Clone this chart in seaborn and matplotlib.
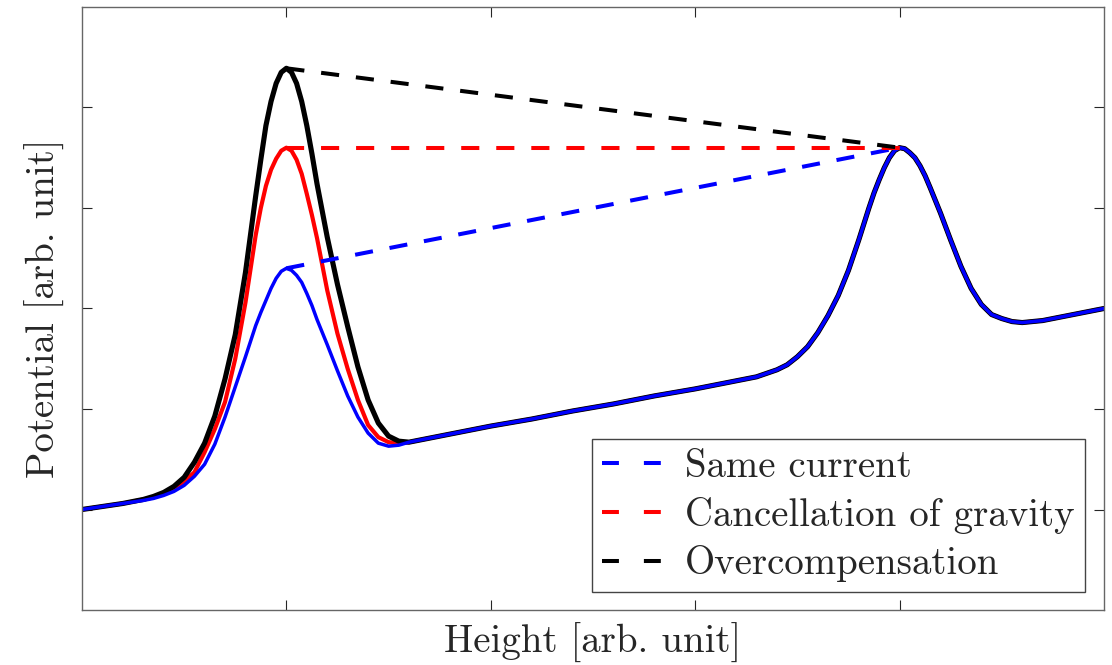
import matplotlib
matplotlib.use("Agg")
import matplotlib.pyplot as plt
import pandas as pd
import seaborn as sns

# Shared height grid across the first barrier
x_first = [0.0, 0.1, 0.2, 0.3, 0.35, 0.4, 0.45, 0.5, 0.55, 0.6, 0.65, 0.7, 0.75,
           0.8, 0.85, 0.875, 0.9, 0.925, 0.95, 0.975, 1.0, 1.025, 1.05, 1.075,
           1.1, 1.125, 1.15, 1.2, 1.25, 1.3, 1.35, 1.4, 1.45, 1.5, 1.55, 1.6]

# Potential across the first barrier for each case
same_current_first = [1.00, 1.03, 1.06, 1.09, 1.11, 1.14, 1.18, 1.24, 1.33, 1.45,
                      1.65, 1.92, 2.22, 2.52, 2.83, 2.96, 3.08, 3.20, 3.30, 3.37,
                      3.40, 3.38, 3.33, 3.26, 3.15, 3.03, 2.89, 2.64, 2.38, 2.13,
                      1.92, 1.76, 1.66, 1.63, 1.64, 1.67]
cancellation_first = [1.00, 1.03, 1.06, 1.10, 1.12, 1.16, 1.21, 1.28, 1.37, 1.57,
                      1.80, 2.07, 2.50, 3.06, 3.73, 4.00, 4.22, 4.38, 4.49, 4.57,
                      4.60, 4.57, 4.48, 4.34, 4.14, 3.93, 3.70, 3.18, 2.75, 2.40,
                      2.09, 1.84, 1.72, 1.67, 1.66, 1.67]
overcomp_first = [1.00, 1.03, 1.06, 1.10, 1.13, 1.17, 1.23, 1.32, 1.47, 1.66,
                  1.93, 2.30, 2.74, 3.36, 4.12, 4.48, 4.82, 5.06, 5.24, 5.35,
                  5.39, 5.35, 5.24, 5.06, 4.82, 4.54, 4.24, 3.71, 3.24, 2.82,
                  2.42, 2.09, 1.86, 1.73, 1.68, 1.67]

# Common potential beyond the first barrier (slope and second barrier)
x_rest = [1.7, 1.8, 2.0, 2.2, 2.4, 2.6, 2.8, 3.0, 3.2, 3.3, 3.4, 3.45, 3.5, 3.55,
          3.6, 3.65, 3.7, 3.75, 3.8, 3.85, 3.875, 3.9, 3.925, 3.95, 3.975, 4.0,
          4.025, 4.05, 4.075, 4.1, 4.125, 4.15, 4.2, 4.25, 4.3, 4.35, 4.4, 4.45,
          4.5, 4.55, 4.6, 4.7, 4.8, 4.9, 5.0]
y_rest = [1.71, 1.75, 1.83, 1.90, 1.98, 2.05, 2.13, 2.20, 2.28, 2.32, 2.39, 2.44,
          2.52, 2.62, 2.76, 2.93, 3.13, 3.38, 3.68, 4.00, 4.15, 4.28, 4.40, 4.50,
          4.57, 4.60, 4.59, 4.55, 4.50, 4.42, 4.32, 4.20, 3.95, 3.68, 3.42, 3.20,
          3.04, 2.94, 2.90, 2.87, 2.86, 2.88, 2.92, 2.96, 3.00]

labels = ["Same current", "Cancellation of gravity", "Overcompensation"]
colors = ["#0000ff", "#ff0000", "#000000"]
firsts = [same_current_first, cancellation_first, overcomp_first]

# Barrier tops (first barrier at x=1, second at x=4)
barrier_x = [1.0, 4.0]

rows = []
for lab, yf in zip(labels, firsts):
    for xv, yv in zip(x_first + x_rest, yf + y_rest):
        rows.append({"height": xv, "potential": yv, "case": lab})
df = pd.DataFrame(rows)

sns.set_style("white")
plt.rcParams["font.family"] = ["cmr10", "DejaVu Serif"]
plt.rcParams["axes.formatter.use_mathtext"] = True

fig = plt.figure(figsize=(11.12, 6.65), dpi=100)
ax = fig.add_axes([0.0737, 0.0827, 0.9191, 0.9068])

# Solid potential profiles: red at the bottom, then black, blue on top
widths = {"Overcompensation": 3.7, "Cancellation of gravity": 3.0, "Same current": 2.5}
for lab in ["Cancellation of gravity", "Overcompensation", "Same current"]:
    sub = df[df["case"] == lab]
    sns.lineplot(data=sub, x="height", y="potential", ax=ax, sort=False,
                 estimator=None, color=colors[labels.index(lab)],
                 linewidth=widths[lab], legend=False)
    ax.lines[-1].set_solid_joinstyle("round")
    ax.lines[-1].set_solid_capstyle("round")

# Dashed lines linking the two barrier tops
second_top = max(y_rest)
for lab, col, yf in zip(labels, colors, firsts):
    sns.lineplot(x=barrier_x, y=[max(yf), second_top], ax=ax, color=col,
                 linewidth=2.9, label=lab, sort=False, estimator=None)
    ax.lines[-1].set_dashes([4.5, 4.2])

ax.set_xlim(0, 5)
ax.set_ylim(0, 6)
ax.set_xticks([1, 2, 3, 4])
ax.set_yticks([1, 2, 3, 4, 5])
ax.tick_params(direction="in", length=7, width=0.8, color="#262626",
               top=True, right=True, bottom=True, left=True,
               labelbottom=False, labelleft=False)
for sp in ax.spines.values():
    sp.set_visible(True)
    sp.set_color("#666666")
    sp.set_linewidth(1.0)

ax.set_xlabel("Height [arb. unit]", fontsize=28, color="#262626", labelpad=9)
ax.set_ylabel("Potential [arb. unit]", fontsize=28, color="#262626", labelpad=12)

leg = ax.legend(loc="lower right", bbox_to_anchor=(0.981, 0.03),
                borderaxespad=0, fontsize=28, frameon=True, fancybox=False,
                framealpha=1, edgecolor="#444444", handlelength=1.55,
                handletextpad=0.6, labelspacing=0.3, borderpad=0.25)
leg.get_frame().set_linewidth(1.0)
for h in leg.get_lines():
    h.set_dashes([4.2, 6.2])

fig.savefig("out.png", dpi=100)
